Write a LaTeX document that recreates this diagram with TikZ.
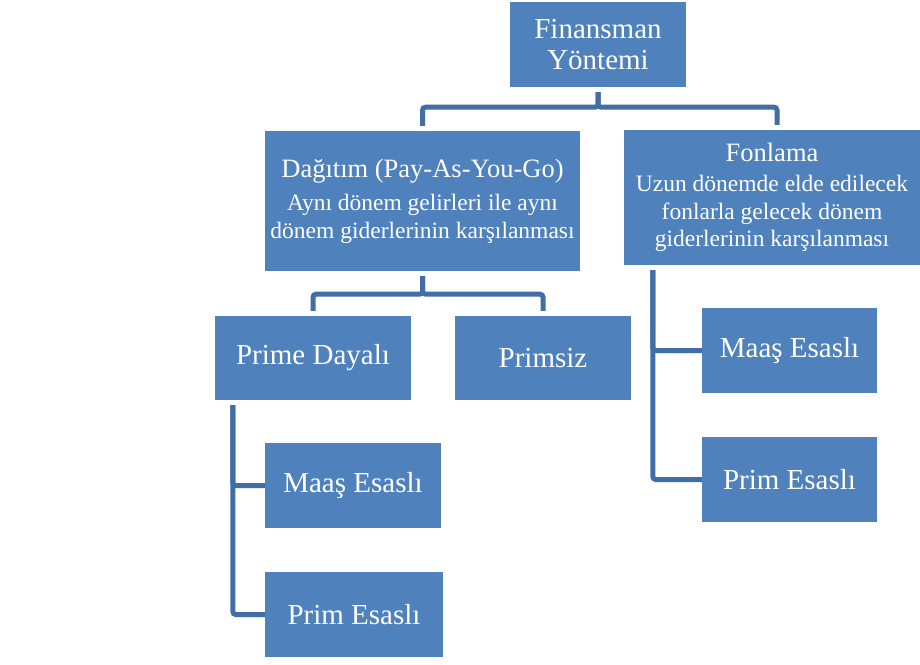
\documentclass[tikz,border=0pt]{standalone}
\usepackage{fontspec}
\setmainfont{Liberation Serif}
\usetikzlibrary{positioning}

\definecolor{boxblue}{RGB}{79,129,189}
\definecolor{linkblue}{RGB}{66,110,168}

\newcommand{\bigsize}{\fontsize{29}{31}\selectfont}
\newcommand{\midsize}{\fontsize{26.5}{30}\selectfont}
\newcommand{\subsize}{\fontsize{23.5}{27.5}\selectfont}

\begin{document}
\begin{tikzpicture}[x=1pt,y=-1pt,
  box/.style={fill=boxblue,text=white,inner sep=0pt,align=center},
  conn/.style={draw=linkblue,line width=5pt,rounded corners=3pt,shorten <=5pt}]
  \fill[white] (0,0) rectangle (920,664);
  \node[box,minimum width=176,minimum height=85,font=\bigsize] (root) at (598,44.5) {Finansman\\Yöntemi};
  \node[box,minimum width=315,minimum height=140,font=\subsize] (dag) at (422.5,201)
    {\midsize Dağıtım (Pay-As-You-Go)\\[6pt]\subsize Aynı dönem gelirleri ile aynı\\\subsize dönem giderlerinin karşılanması};
  \node[box,minimum width=296,minimum height=135,font=\subsize] (fon) at (772,197.5)
    {\midsize Fonlama\\[3pt]\subsize Uzun dönemde elde edilecek\\\subsize fonlarla gelecek dönem\\\subsize giderlerinin karşılanması};
  \node[box,minimum width=196,minimum height=84,font=\bigsize] (pd) at (313,358) {Prime Dayalı};
  \node[box,minimum width=176,minimum height=84,font=\bigsize] (ps) at (543,358) {Primsiz};
  \node[box,minimum width=176,minimum height=85,font=\bigsize] (lmaas) at (353,485.5) {Maaş Esaslı};
  \node[box,minimum width=178,minimum height=85,font=\bigsize] (lprim) at (354,614.5) {Prim Esaslı};
  \node[box,minimum width=175,minimum height=85,font=\bigsize] (rmaas) at (789.5,350.5) {Maaş Esaslı};
  \node[box,minimum width=175,minimum height=85,font=\bigsize] (rprim) at (789.5,479.5) {Prim Esaslı};
  % tree links
  \draw[conn,shorten >=5pt] (root.south) -- ++(0,20) -| (dag.north);
  \draw[conn,shorten >=5pt] (root.south) -- ++(0,20) -| ([xshift=5]fon.north);
  \draw[conn,shorten >=5pt] (dag.south) -- ++(0,23) -| (pd.north);
  \draw[conn,shorten >=5pt] (dag.south) -- ++(0,23) -| (ps.north);
  \draw[conn] ([xshift=18]pd.south west) |- (lmaas.west);
  \draw[conn] ([xshift=18]pd.south west) |- (lprim.west);
  \draw[conn] ([xshift=29]fon.south west) |- (rmaas.west);
  \draw[conn] ([xshift=29]fon.south west) |- (rprim.west);
\end{tikzpicture}
\end{document}
